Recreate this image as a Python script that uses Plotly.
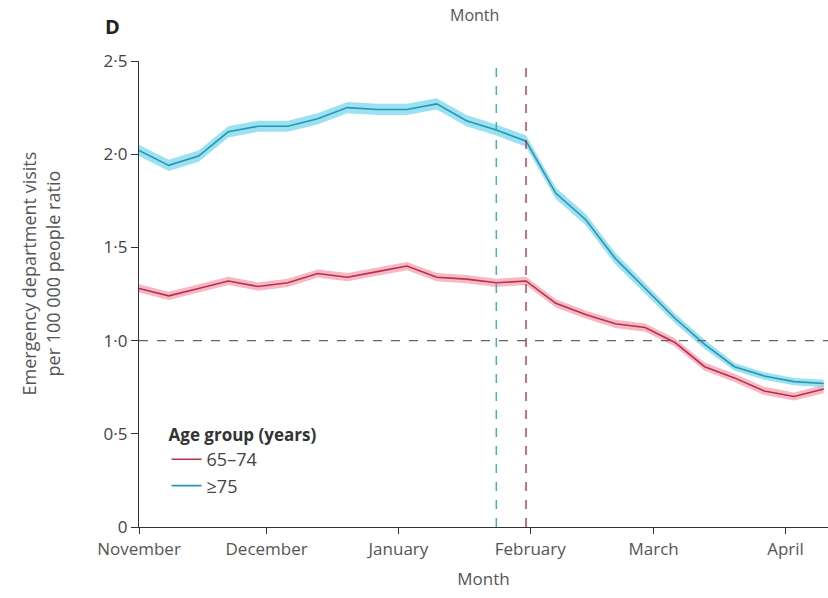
import plotly.graph_objects as go
import pandas as pd

# Weekly dates (start 1 Nov 2019)
dates = pd.date_range("2019-11-01", periods=24, freq="7D")

age_75 = [2.02, 1.94, 1.99, 2.12, 2.15, 2.15, 2.19, 2.25, 2.24, 2.24, 2.27, 2.18,
          2.13, 2.07, 1.79, 1.65, 1.44, 1.28, 1.12, 0.98, 0.86, 0.81, 0.78, 0.77]
age_75_ci = [0.03, 0.03, 0.03, 0.03, 0.03, 0.03, 0.03, 0.03, 0.03, 0.03, 0.03, 0.03,
             0.03, 0.03, 0.03, 0.03, 0.03, 0.025, 0.025, 0.025, 0.02, 0.02, 0.02, 0.02]

age_65_74 = [1.28, 1.24, 1.28, 1.32, 1.29, 1.31, 1.36, 1.34, 1.37, 1.40, 1.34, 1.33,
             1.31, 1.32, 1.20, 1.14, 1.09, 1.07, 0.99, 0.86, 0.80, 0.73, 0.70, 0.74]
age_65_74_ci = [0.022] * 24

month_ticks = ["2019-11-01", "2019-12-01", "2020-01-01", "2020-02-01", "2020-03-01", "2020-04-01"]
month_labels = ["November", "December", "January", "February", "March", "April"]
y_ticks = [0, 0.5, 1.0, 1.5, 2.0, 2.5]
y_labels = ["0", "0·5", "1·0", "1·5", "2·0", "2·5"]

vline_75 = "2020-01-24"
vline_65 = "2020-01-31"

BLUE_LINE = "#2a95b0"
BLUE_BAND = "rgba(120,215,238,0.75)"
RED_LINE = "#b5304e"
RED_BAND = "rgba(244,160,175,0.75)"

FONT = "Open Sans, Noto Sans, sans-serif"

fig = go.Figure()

def band(values, ci, color):
    upper = [v + c for v, c in zip(values, ci)]
    lower = [v - c for v, c in zip(values, ci)]
    x = list(dates) + list(dates[::-1])
    y = upper + lower[::-1]
    fig.add_trace(go.Scatter(x=x, y=y, fill="toself", fillcolor=color,
                             line=dict(width=0), mode="lines",
                             showlegend=False, hoverinfo="skip"))

band(age_65_74, age_65_74_ci, RED_BAND)
band(age_75, age_75_ci, BLUE_BAND)

fig.add_trace(go.Scatter(x=dates, y=age_65_74, mode="lines", name="65–74",
                         line=dict(color=RED_LINE, width=1.6)))
fig.add_trace(go.Scatter(x=dates, y=age_75, mode="lines", name="≥75",
                         line=dict(color=BLUE_LINE, width=1.6)))

# reference lines
fig.add_shape(type="line", xref="paper", x0=0, x1=1, yref="y", y0=1.0, y1=1.0,
              line=dict(color="#666", width=1.3, dash="dash"))
fig.add_shape(type="line", xref="x", x0=vline_75, x1=vline_75, yref="paper", y0=0, y1=1,
              line=dict(color="#2fa6c8", width=1.3, dash="dash"))
fig.add_shape(type="line", xref="x", x0=vline_65, x1=vline_65, yref="paper", y0=0, y1=1,
              line=dict(color="#a8284a", width=1.3, dash="dash"))

fig.update_layout(
    width=828, height=598,
    margin=dict(l=139, r=0, t=61, b=71),
    plot_bgcolor="white", paper_bgcolor="white",
    font=dict(family=FONT, color="#444", size=16),
    xaxis=dict(
        type="date",
        range=["2019-11-01", "2020-04-11"],
        tickvals=month_ticks, ticktext=month_labels,
        ticks="outside", ticklen=6, tickcolor="#333",
        showline=True, linecolor="#333", linewidth=1.2,
        showgrid=False, zeroline=False,
        tickfont=dict(family=FONT, size=17, color="#555"),
        title=dict(text="Month", font=dict(size=17, color="#555", family=FONT), standoff=14),
    ),
    yaxis=dict(
        range=[0, 2.5],
        tickvals=y_ticks, ticktext=y_labels,
        ticks="outside", ticklen=7, tickcolor="#333",
        showline=True, linecolor="#333", linewidth=1.2,
        showgrid=False, zeroline=False,
        tickfont=dict(size=17, color="#444", family=FONT),
    ),
    legend=dict(
        x=0.04, y=0.232, xanchor="left", yanchor="top",
        bgcolor="rgba(255,255,255,0)",
        title=dict(text="<b>Age group (years)</b>", font=dict(size=17, color="#333", family=FONT)),
        font=dict(size=18, color="#444", family=FONT),
        tracegroupgap=0, itemwidth=30,
    ),
)

fig.add_annotation(text="Emergency department visits<br>per 100 000 people ratio",
                   xref="paper", yref="paper", x=-0.143, y=0.545, textangle=-90,
                   showarrow=False, xanchor="center", yanchor="middle",
                   font=dict(size=18, color="#555", family=FONT))
fig.add_annotation(text="Month", xref="paper", yref="paper", x=0.487, y=1.099,
                   showarrow=False, yanchor="middle",
                   font=dict(size=16, color="#555", family=FONT))
fig.add_annotation(text="<b>D</b>", xref="paper", yref="paper", x=-0.052, y=1.075,
                   yanchor="middle", showarrow=False, xanchor="left",
                   font=dict(size=20, color="#222", family=FONT))

fig.write_html("out.html")
